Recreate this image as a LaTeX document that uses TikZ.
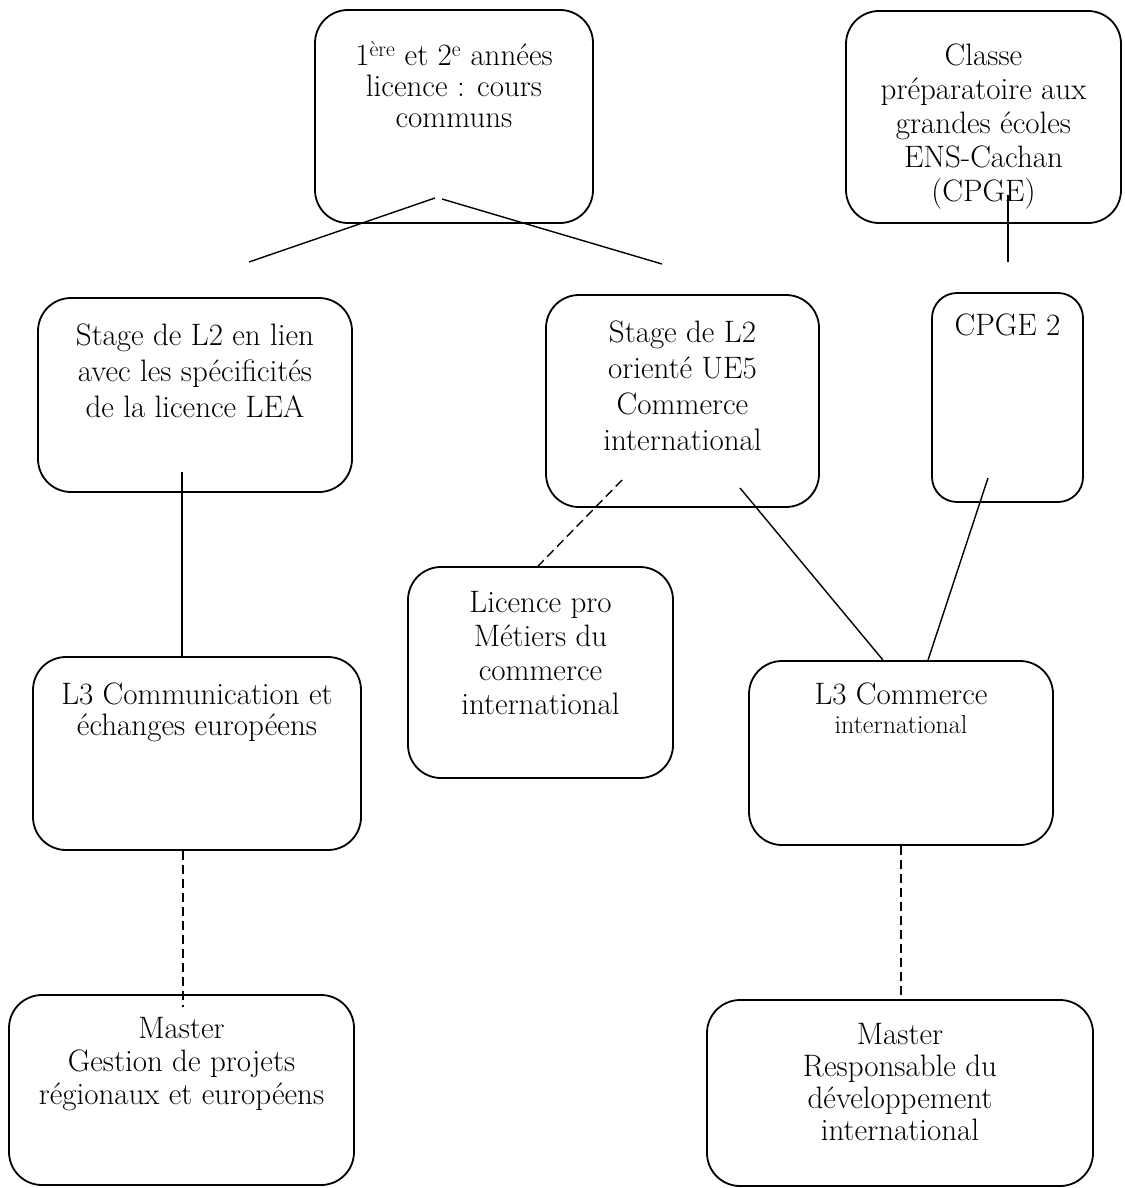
\documentclass[tikz,border=0pt]{standalone}
\usetikzlibrary{positioning}
\begin{document}
\begin{tikzpicture}[x=1pt, y=-1pt,
    box/.style 2 args={draw, line width=1.8pt, rounded corners=33pt, inner sep=0pt, minimum width=#1pt, minimum height=#2pt},
    txt/.style={align=center, inner sep=0pt, font=\fontsize{31}{34}\selectfont},
    link/.style={line width=1.4pt},
    opt/.style={line width=1.4pt, dash pattern=on 9pt off 5pt}]
  \useasboundingbox (0,0) rectangle (1124,1188);
  % boxes
  \node[box={278}{213}] (yr12) at (454,116.5) {};
  \node[box={275}{212}] (cpge) at (983.5,117) {};
  \node[box={151}{209}, rounded corners=25pt] (cpge2) at (1007.5,397.5) {};
  \node[box={314}{194}] (stgA) at (195,395) {};
  \node[box={273}{212}] (stgB) at (682.5,401) {};
  \node[box={265}{211}] (lpro) at (540.5,672.5) {};
  \node[box={328}{193}] (l3com) at (197,753.5) {};
  \node[box={304}{184}] (l3ci) at (901,753) {};
  \node[box={345}{190}] (mgp) at (181.5,1090) {};
  \node[box={386}{186}] (mrdi) at (900,1093) {};
  % texts
  \node[txt, below=32pt of yr12.north] (yr12-t) {1\textsuperscript{ère} et 2\textsuperscript{e} années\\[-3pt]licence : cours\\[-3pt]communs};
  \node[txt, below=34pt of cpge.north] (cpge-t) {Classe\\préparatoire aux\\grandes écoles\\ENS-Cachan\\(CPGE)};
  \node[txt, below=22pt of cpge2.north] (cpge2-t) {CPGE 2};
  \node[txt, below=27pt of stgA.north] (stgA-t) {Stage de L2 en lien\\[2pt]avec les spécificités\\[2pt]de la licence LEA};
  \node[txt, below=27pt of stgB.north] (stgB-t) {Stage de L2\\[2pt]orienté UE5\\[2pt]Commerce\\[2pt]international};
  \node[txt, below=25pt of lpro.north] (lpro-t) {Licence pro\\Métiers du\\commerce\\international};
  \node[txt, below=27pt of l3com.north] (l3com-t) {L3 Communication et\\[-3pt]échanges européens};
  \node[txt, below=23pt of l3ci.north] (l3ci-t) {L3 Commerce\\[-5pt]{\fontsize{26}{30}\selectfont international}};
  \node[txt, below=23pt of mgp.north] (mgp-t) {Master\\[-1pt]Gestion de projets\\[-1pt]régionaux et européens};
  \node[txt, below=24pt of mrdi.north] (mrdi-t) {Master\\[-2pt]Responsable du\\[-2pt]développement\\[-2pt]international};
  % connectors
  \coordinate (yr12-l) at (435,198);
  \coordinate (yr12-r) at (442,199);
  \coordinate (fork-l) at (249,262);
  \coordinate (fork-r) at (662,264);
  \coordinate (cpge-a) at (1008,195);
  \coordinate (cpge-b) at (1008,262);
  \coordinate (stgA-a) at (182,472);
  \coordinate (stgB-a) at (622,480);
  \coordinate (stgB-b) at (740,488);
  \coordinate (cpge2-a) at (988,478);
  \coordinate (mgp-a) at (183,1007);
  \draw[link] (yr12-l) -- (fork-l);
  \draw[link] (yr12-r) -- (fork-r);
  \draw[link] (cpge-a) -- (cpge-b);
  \draw[link] (stgA-a) -- (stgA-a |- l3com.north);
  \draw[opt] (stgB-a) -- (538,567 |- lpro.north);
  \draw[link] (stgB-b) -- (883,661 |- l3ci.north);
  \draw[link] (cpge2-a) -- (928,661 |- l3ci.north);
  \draw[opt] (mgp-a |- l3com.south) -- (mgp-a);
  \draw[opt] (l3ci.south) -- (l3ci.south |- mrdi.north);
\end{tikzpicture}
\end{document}
